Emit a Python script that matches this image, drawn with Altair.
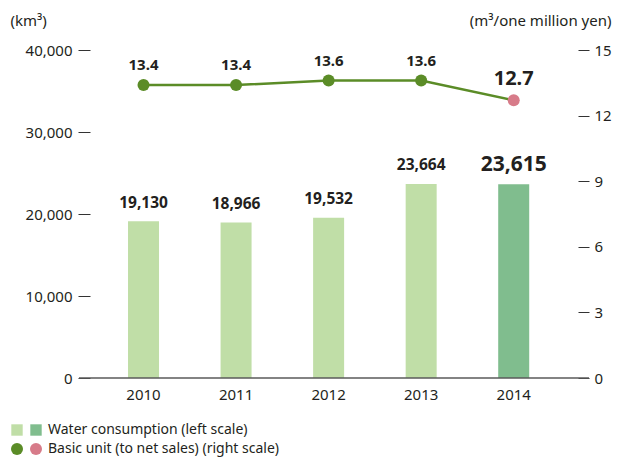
import altair as alt
import pandas as pd

# ---- data ----
years = ["2010", "2011", "2012", "2013", "2014"]
water = [19130, 18966, 19532, 23664, 23615]
water_labels = ["19,130", "18,966", "19,532", "23,664", "23,615"]
basic_unit = [13.4, 13.4, 13.6, 13.6, 12.7]
unit_labels = ["13.4", "13.4", "13.6", "13.6", "12.7"]
bar_group = ["past", "past", "past", "past", "latest"]
point_group = ["prior", "prior", "prior", "prior", "current"]
left_ticks = [0, 10000, 20000, 30000, 40000]
right_ticks = [0, 3, 6, 9, 12, 15]
baseline = [0]

df = pd.DataFrame({
    "year": years,
    "water": water,
    "water_label": water_labels,
    "unit": basic_unit,
    "unit_label": unit_labels,
    "bar_group": bar_group,
    "point_group": point_group,
})
base_df = pd.DataFrame({"water": baseline})

FONT = "Noto Sans"
TXT = "#231f20"
LIGHT = "#c0dea7"
DARK = "#80bd8e"
GREEN = "#5b8c27"
PINK = "#d77b89"

x_enc = alt.X(
    "year:O",
    scale=alt.Scale(paddingInner=0.665, paddingOuter=0.469, align=0.438),
    axis=alt.Axis(title=None, labelAngle=0, ticks=False, domain=False,
                  labelPadding=9, labelFontSize=15, labelColor=TXT, labelFont=FONT),
)

yl_scale = alt.Scale(domain=[0, 40000], nice=False, zero=True)
yl_axis = alt.Axis(
    values=left_ticks, labelExpr="format(datum.value, ',')", title="(km³)", titleAngle=0,
    titleX=-80, titleY=-25, titleAlign="left", titleBaseline="alphabetic",
    titleFontSize=15, titleFontWeight="normal", titleColor=TXT, titleFont=FONT,
    grid=False, domain=False, tickSize=12, tickColor="#333333", tickWidth=1,
    labelPadding=6, labelFontSize=15, labelColor=TXT, labelFont=FONT,
)
yr_scale = alt.Scale(domain=[0, 15], nice=False, zero=True)
yr_axis = alt.Axis(
    orient="right", values=right_ticks, title="(m³/one million yen)", titleAngle=0,
    titleX=33, titleY=-25, titleAlign="right", titleBaseline="alphabetic",
    titleFontSize=15, titleFontWeight="normal", titleColor=TXT, titleFont=FONT,
    grid=False, domain=False, tickSize=11, tickColor="#333333", tickWidth=1,
    labelPadding=5, labelFontSize=15, labelColor=TXT, labelFont=FONT,
)

y_left = alt.Y("water:Q", scale=yl_scale, axis=yl_axis)
y_right = alt.Y("unit:Q", scale=yr_scale, axis=yr_axis)

bars = alt.Chart(df).mark_bar().encode(
    x=x_enc,
    y=y_left,
    color=alt.Color(
        "bar_group:N",
        scale=alt.Scale(domain=["past", "latest"], range=[LIGHT, DARK]),
        legend=alt.Legend(
            orient="none", legendX=-80, legendY=373, direction="horizontal",
            columns=2, title=None, symbolType="square", symbolSize=130,
            symbolStrokeWidth=0, symbolOpacity=1,
            labelExpr="datum.value == 'latest' ? 'Water consumption (left scale)' : ''",
            labelFontSize=14, labelFont=FONT, labelColor=TXT, labelOffset=5,
            labelLimit=0, columnPadding=0, padding=0,
        ),
    ),
)

rule = alt.Chart(base_df).mark_rule(color="#5a5a5a", strokeWidth=1.5).encode(
    y=y_left,
    x=alt.value(-11),
    x2=alt.value(499),
)

bar_text = alt.Chart(df).mark_text(
    dy=-13.5, baseline="alphabetic", fontWeight="bold", font=FONT, color=TXT
).encode(
    x=x_enc,
    y=y_left,
    text="water_label:N",
    size=alt.condition(alt.datum.bar_group == "latest", alt.value(21), alt.value(15.5)),
)

line = alt.Chart(df).mark_line(color=GREEN, strokeWidth=2.5).encode(
    x=x_enc, y=y_right
)

pts = alt.Chart(df).mark_point(filled=True, size=144, opacity=1).encode(
    x=x_enc,
    y=y_right,
    fill=alt.Fill(
        "point_group:N",
        scale=alt.Scale(domain=["prior", "current"], range=[GREEN, PINK]),
        legend=alt.Legend(
            orient="none", legendX=-80, legendY=392, direction="horizontal",
            columns=2, title=None, symbolType="circle", symbolSize=144,
            symbolStrokeWidth=0, symbolOpacity=1,
            labelExpr="datum.value == 'current' ? 'Basic unit (to net sales) (right scale)' : ''",
            labelFontSize=14, labelFont=FONT, labelColor=TXT, labelOffset=5,
            labelLimit=0, columnPadding=0, padding=0,
        ),
    ),
)

unit_text = alt.Chart(df).mark_text(
    dy=-15, baseline="alphabetic", fontWeight="bold", font=FONT, color=TXT
).encode(
    x=x_enc,
    y=y_right,
    text="unit_label:N",
    size=alt.condition(alt.datum.point_group == "current", alt.value(20), alt.value(15)),
)

left = alt.layer(bars, rule, bar_text)
right = alt.layer(line, pts, unit_text)

chart = (
    alt.layer(left, right)
    .resolve_scale(y="independent")
    .properties(
        width=488,
        height=328,
        autosize=alt.AutoSizeParams(type="none"),
        padding={"left": 82, "top": 42, "right": 34, "bottom": 79},
    )
    .configure(font=FONT)
    .configure_view(stroke=None)
)

chart.save("out.html", embed_options={"renderer": "svg", "actions": False})
